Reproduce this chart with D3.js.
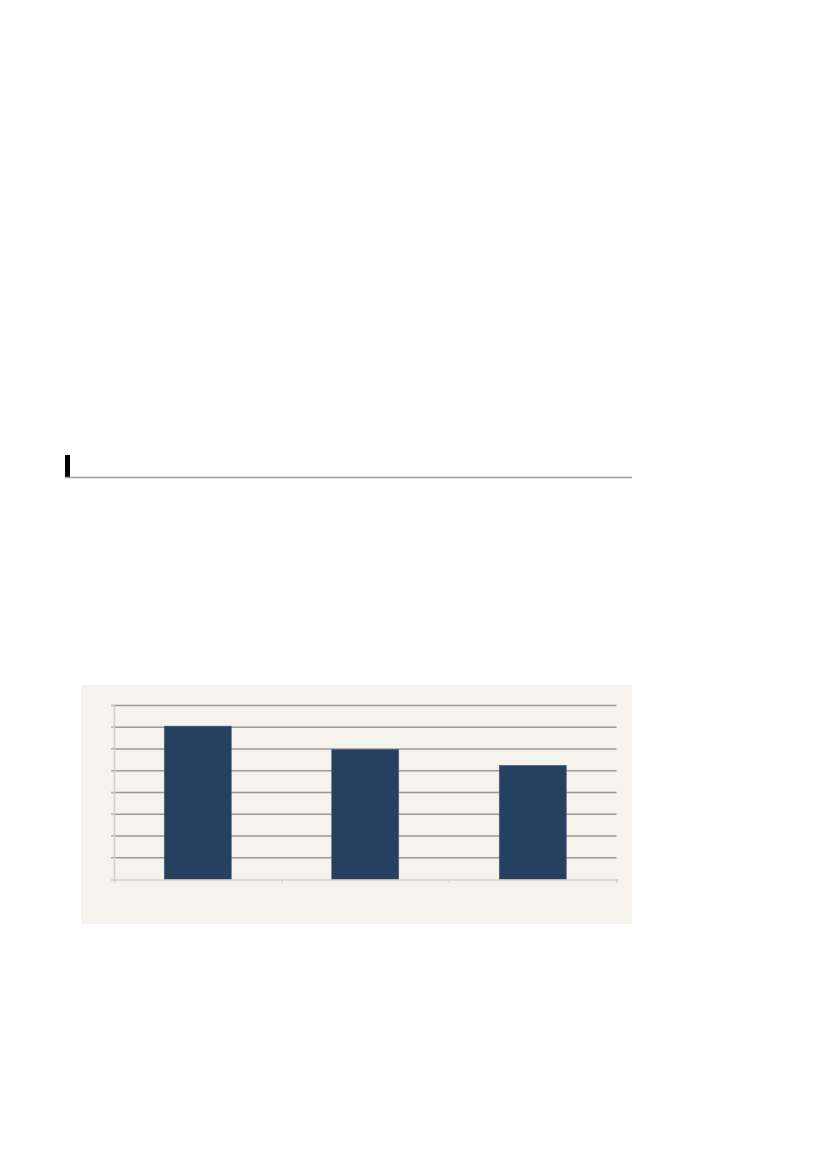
<!DOCTYPE html>
<html>
<head>
<meta charset="utf-8">
<script src="https://cdn.jsdelivr.net/npm/d3@7"></script>
<style>
  body { margin: 0; background: #ffffff; }
</style>
</head>
<body>
<div id="page"></div>
<script>
// chart data (no labels shown in the original)
var categories = ["A", "B", "C"];
var values = [7.05, 5.98, 5.25];
var yTicks = [0, 1, 2, 3, 4, 5, 6, 7, 8];

var svgWidth = 827;
var svgHeight = 1169;

var svg = d3.select("#page").append("svg")
    .attr("width", svgWidth)
    .attr("height", svgHeight);

// section header: black marker and rule
svg.append("rect")
    .attr("x", 65).attr("y", 455)
    .attr("width", 5).attr("height", 22)
    .attr("fill", "#000");
svg.append("line")
    .attr("x1", 65).attr("x2", 632)
    .attr("y1", 477.5).attr("y2", 477.5)
    .attr("stroke", "#9a9a9a")
    .attr("stroke-width", 1.3);

// chart panel
svg.append("rect")
    .attr("x", 81).attr("y", 685)
    .attr("width", 551).attr("height", 239)
    .attr("fill", "#f6f2ec");

var plot = { left: 114, right: 616.5, top: 705.5, bottom: 879.5 };

var x = d3.scaleBand()
    .domain(categories)
    .range([plot.left, plot.right])
    .paddingInner(0.6)
    .paddingOuter(0.3);

var y = d3.scaleLinear()
    .domain([0, 8])
    .range([plot.bottom, plot.top]);

// gridlines
svg.append("g").selectAll("line")
    .data(yTicks.slice(1))
    .enter()
    .append("line")
    .attr("x1", plot.left - 3)
    .attr("x2", plot.right)
    .attr("y1", d => y(d))
    .attr("y2", d => y(d))
    .attr("stroke", "#9c9a97")
    .attr("stroke-width", 1.4);

// left axis line with ticks
var leftAxis = d3.axisLeft(y).tickValues(yTicks).tickSize(3).tickFormat("");
var yAxis = svg.append("g")
    .attr("transform", `translate(${plot.left},0)`)
    .call(leftAxis);
yAxis.select(".domain").attr("stroke", "#d3d0cb").attr("stroke-width", 1.5);
yAxis.selectAll(".tick line").attr("stroke", "#d3d0cb");

// bars
svg.append("g").selectAll("rect")
    .data(values)
    .enter()
    .append("rect")
    .attr("x", (d, i) => x(categories[i]))
    .attr("y", d => y(d))
    .attr("width", x.bandwidth())
    .attr("height", d => plot.bottom - y(d))
    .attr("fill", "#264061")
    .attr("stroke", "#4a6080")
    .attr("stroke-width", 0.6);

// bottom axis with category separators
var xEdge = d3.scaleLinear().domain([0, categories.length]).range([plot.left, plot.right]);
var bottomAxis = d3.axisBottom(xEdge).tickValues(d3.range(categories.length + 1)).tickSize(3).tickFormat("");
var xAxis = svg.append("g")
    .attr("transform", `translate(0,${plot.bottom})`)
    .call(bottomAxis);
xAxis.select(".domain").attr("stroke", "#d3d0cb").attr("stroke-width", 1.5);
xAxis.selectAll(".tick line").attr("stroke", "#d3d0cb").attr("stroke-width", 1.5);
</script>
</body>
</html>
